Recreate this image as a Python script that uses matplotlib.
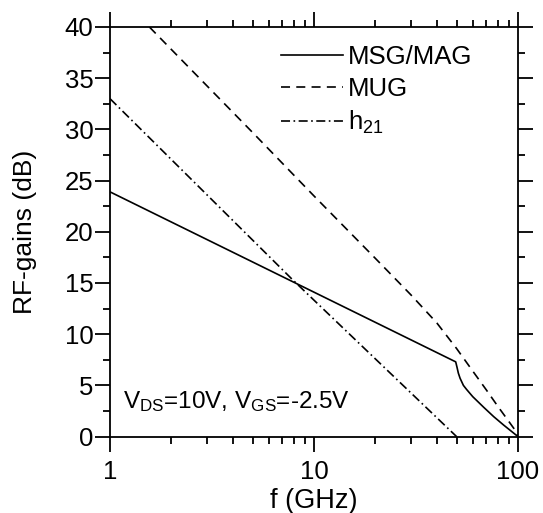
import matplotlib
matplotlib.use("Agg")
import matplotlib.pyplot as plt
from matplotlib.ticker import FixedLocator, FixedFormatter, LogLocator, NullFormatter, MultipleLocator

plt.rcParams['font.family'] = ['Liberation Sans', 'DejaVu Sans']
plt.rcParams['mathtext.fontset'] = 'custom'
plt.rcParams['mathtext.rm'] = 'Liberation Sans'
plt.rcParams['mathtext.it'] = 'Liberation Sans:italic'
plt.rcParams['lines.scale_dashes'] = False

# data
msg_f = [1, 49.5, 50.2, 51, 52, 54, 56, 60, 68, 76, 85, 100]
msg_g = [23.9, 7.3, 6.8, 6.2, 5.7, 5.0, 4.6, 3.9, 2.85, 1.95, 1.13, 0]
mug_f = [1.56, 2, 5, 10, 20, 30, 40, 50, 60, 70, 80, 90, 96.7, 100]
mug_g = [40, 37.8, 29.7, 23.5, 17.4, 13.8, 11.1, 8.6, 6.4, 4.55, 2.9, 1.5, 0.64, 0]
h21_f = [1, 7.78, 50]
h21_g = [33, 15.4, 0]
labels = ["MSG/MAG", "MUG", r"$\mathregular{h_{21}}$"]
xticks = [1, 10, 100]
xticklabels = ["1", "10", "100"]

fig = plt.figure(figsize=(5.43, 5.13), dpi=100)
ax = fig.add_axes([110/543, 1-436.6/513, 408/543, 409.6/513])

lw = 1.2
ax.plot(msg_f, msg_g, color='black', lw=lw, linestyle='-', label=labels[0])
ax.plot(mug_f, mug_g, color='black', lw=lw, linestyle=(0, (6.5, 4.5)), label=labels[1])
ax.plot(h21_f, h21_g, color='black', lw=lw, linestyle=(0, (6.5, 2.5, 1.2, 2.5)), label=labels[2])

ax.set_xscale('log')
ax.set_xlim(1, 100)
ax.set_ylim(0, 40)
ax.xaxis.set_major_locator(FixedLocator(xticks))
ax.xaxis.set_major_formatter(FixedFormatter(xticklabels))
ax.xaxis.set_minor_locator(LogLocator(base=10, subs=range(2, 10)))
ax.xaxis.set_minor_formatter(NullFormatter())
ax.yaxis.set_major_locator(MultipleLocator(5))
ax.yaxis.set_minor_locator(MultipleLocator(2.5))

for s in ax.spines.values():
    s.set_linewidth(1.3)
ax.tick_params(which='both', direction='out', top=True, right=True, width=1.3, labelsize=18.5)
ax.tick_params(which='major', length=10.5)
ax.tick_params(which='minor', length=5)
ax.tick_params(axis='x', which='major', pad=6)
ax.tick_params(axis='y', which='major', pad=1.5)

ax.set_xlabel("f (GHz)", fontsize=19.5, labelpad=3)
ax.set_ylabel("RF-gains (dB)", fontsize=19, labelpad=20)

leg = ax.legend(loc='upper left', bbox_to_anchor=(0.419, 0.955), frameon=False,
                fontsize=18.5, handlelength=2.4, handletextpad=0.2, labelspacing=0.3,
                borderpad=0, borderaxespad=0)

ax.text(0.032, 0.07, r"$\mathregular{V_{DS}}$=10V, $\mathregular{V_{GS}}$=-2.5V",
        transform=ax.transAxes, fontsize=17.5, va='baseline', ha='left')

fig.savefig("out.png", dpi=100)
